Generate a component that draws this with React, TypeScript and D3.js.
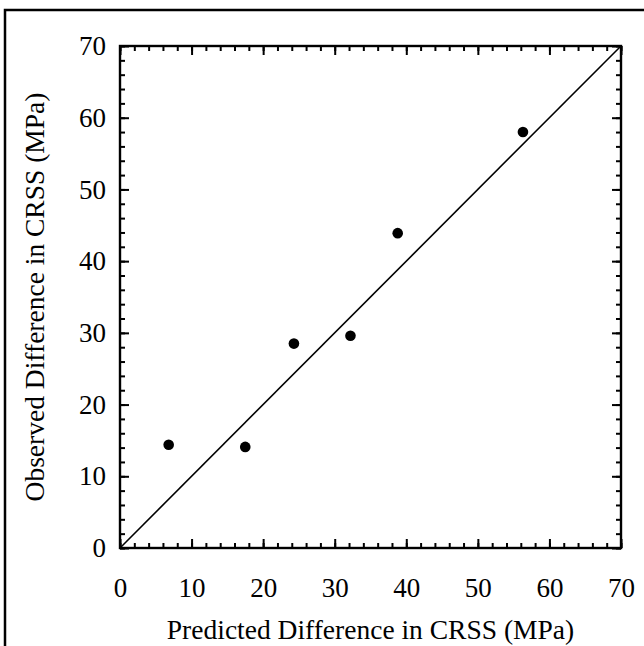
import React, { useEffect, useRef } from 'react';
import * as d3 from 'd3';

// predicted vs observed CRSS difference (MPa)
const predicted = [6.8, 17.5, 24.3, 32.2, 38.8, 56.3];
const observed = [14.4, 14.1, 28.5, 29.6, 43.9, 58.0];
const majorTicks = [0, 10, 20, 30, 40, 50, 60, 70];
const minorTicks = d3.range(0, 71, 2);
const fitLine = [0, 70];

const width = 644;
const height = 646;
const font = '"Liberation Serif", "Times New Roman", serif';

export default function App() {
  const ref = useRef<SVGSVGElement>(null);

  useEffect(() => {
    const svg = d3.select(ref.current);
    svg.selectAll('*').remove();

    const x = d3.scaleLinear().domain([0, 70]).range([120, 621]);
    const y = d3.scaleLinear().domain([0, 70]).range([548, 46]);

    // outer frame (top and left edges only)
    svg.append('path')
      .attr('d', `M5,${height} L5,10 L${width},10`)
      .attr('fill', 'none')
      .attr('stroke', '#000')
      .attr('stroke-width', 2.5);

    const g = svg.append('g');

    const addAxis = (axis: any, transform: string, labels: boolean) => {
      const a = g.append('g').attr('transform', transform);
      a.call(axis);
      a.select('.domain').remove();
      a.attr('font-size', null).attr('font-family', null);
      a.selectAll('text')
        .style('font-family', font)
        .style('font-size', '27px')
        .attr('fill', '#000');
      if (!labels) a.selectAll('text').remove();
      a.selectAll('line').attr('stroke', '#000').attr('stroke-width', 2);
      return a;
    };

    const sides: [() => any, string][] = [
      [() => d3.axisBottom(x), `translate(0,${y(0)})`],
      [() => d3.axisTop(x), `translate(0,${y(70)})`],
      [() => d3.axisLeft(y), `translate(${x(0)},0)`],
      [() => d3.axisRight(y), `translate(${x(70)},0)`],
    ];

    sides.forEach(([mk, tr], i) => {
      // minor ticks
      addAxis(mk().tickValues(minorTicks).tickSize(-5).tickFormat(() => ''), tr, false);
      // major ticks, labels only on bottom and left
      const isLabelled = i === 0 || i === 2;
      const a = addAxis(
        mk().tickValues(majorTicks).tickSize(-9).tickFormat(d3.format('d')),
        tr,
        isLabelled
      );
      if (i === 0) a.selectAll('text').attr('y', 30);
      if (i === 2) a.selectAll('text').attr('x', -14);
    });

    // plot box
    g.append('rect')
      .attr('x', x(0))
      .attr('y', y(70))
      .attr('width', x(70) - x(0))
      .attr('height', y(0) - y(70))
      .attr('fill', 'none')
      .attr('stroke', '#000')
      .attr('stroke-width', 2.4);

    // 1:1 line
    g.append('line')
      .attr('x1', x(fitLine[0]))
      .attr('y1', y(fitLine[0]))
      .attr('x2', x(fitLine[1]))
      .attr('y2', y(fitLine[1]))
      .attr('stroke', '#000')
      .attr('stroke-width', 1.6);

    g.selectAll('circle.pt')
      .data(predicted.map((p, i) => [p, observed[i]]))
      .enter()
      .append('circle')
      .attr('class', 'pt')
      .attr('cx', (d) => x(d[0]))
      .attr('cy', (d) => y(d[1]))
      .attr('r', 5.3)
      .attr('fill', '#000');

    svg.append('text')
      .attr('x', (x(0) + x(70)) / 2)
      .attr('y', 639)
      .attr('text-anchor', 'middle')
      .style('font-family', font)
      .style('font-size', '27.5px')
      .text('Predicted Difference in CRSS (MPa)');

    svg.append('text')
      .attr('transform', `translate(44,${(y(0) + y(70)) / 2}) rotate(-90)`)
      .attr('text-anchor', 'middle')
      .style('font-family', font)
      .style('font-size', '27.5px')
      .text('Observed Difference in CRSS (MPa)');
  }, []);

  return (
    <svg
      ref={ref}
      width={width}
      height={height}
      style={{ position: 'absolute', left: 0, top: 0, background: '#fff' }}
    />
  );
}
